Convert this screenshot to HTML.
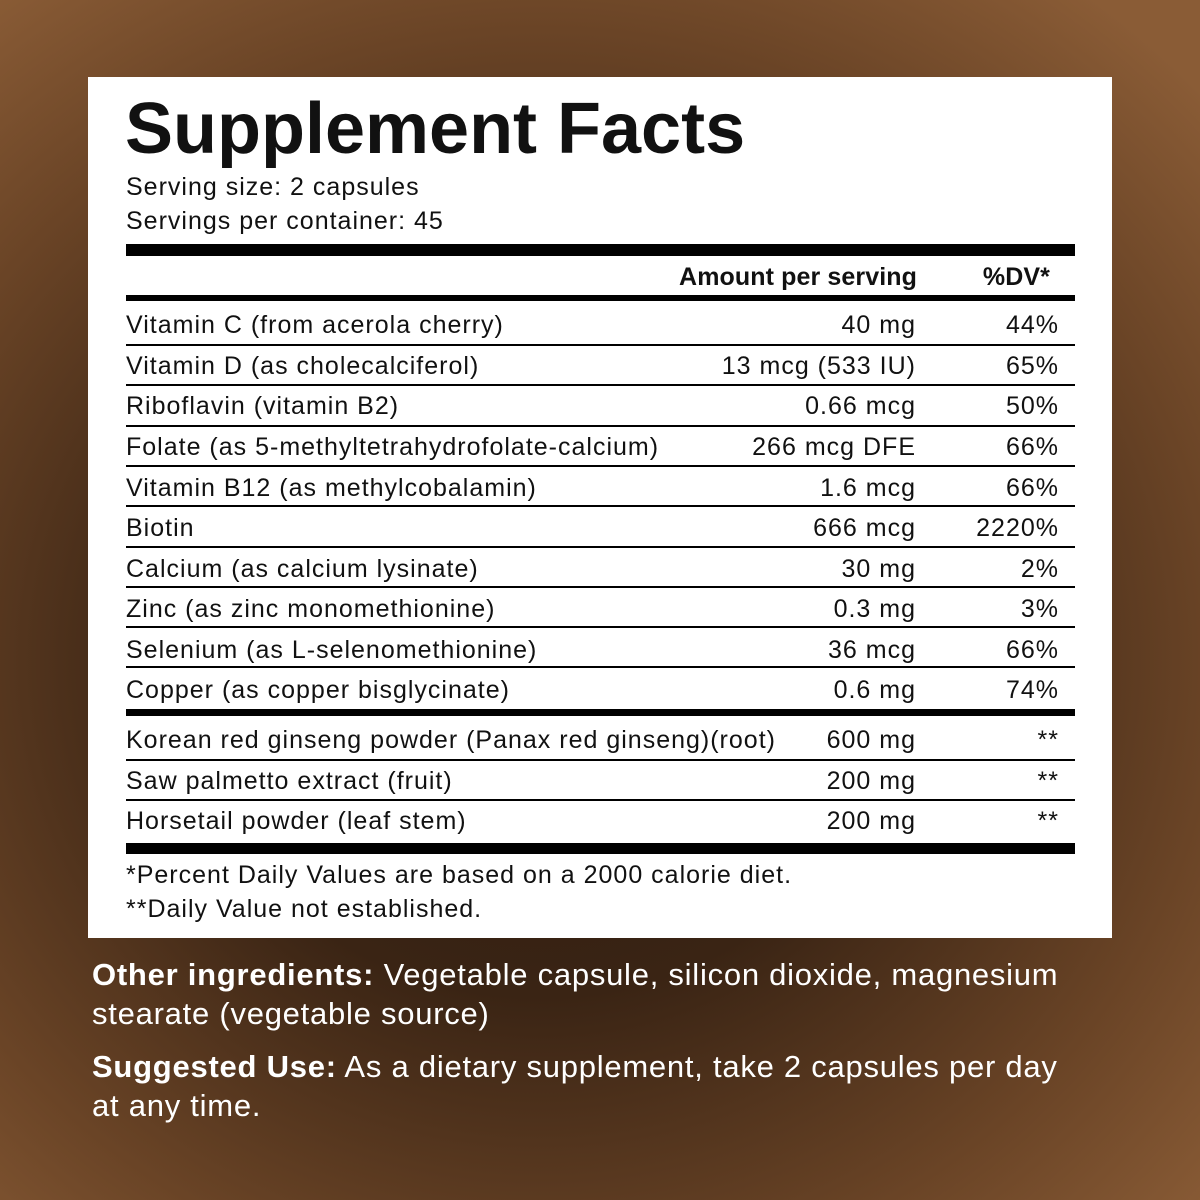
<!DOCTYPE html>
<html><head><style>
*{margin:0;padding:0;box-sizing:border-box}
body{width:1200px;height:1200px;overflow:hidden;font-family:"Liberation Sans",sans-serif;
background:radial-gradient(ellipse 75% 70% at 45% 55%,#2b1a0f 0%,#3a2414 40%,#6a4426 75%,#8a5c36 100%);position:relative}
.box{position:absolute;left:88px;top:77px;width:1024px;height:861px;background:#fff}
.a{position:absolute;white-space:nowrap;color:#111}
.t{position:absolute;font-size:25px;letter-spacing:1px;line-height:28px;white-space:nowrap;color:#111}
.l{left:126px}.m{right:284px;text-align:right}.d{right:141px;text-align:right}
.bar{position:absolute;left:126px;width:949px;background:#000}
.w{position:absolute;left:92px;color:#fff;font-size:31px;letter-spacing:0.75px;line-height:39px;width:1050px;white-space:nowrap}
</style></head><body>
<div class="box"></div>
<div class="a" style="left:125px;top:89px;font-size:72px;font-weight:bold;line-height:80px">Supplement Facts</div>
<div class="t l" style="top:173px">Serving size: 2 capsules</div>
<div class="t l" style="top:207px">Servings per container: 45</div>
<div class="bar" style="top:244px;height:12px"></div>
<div class="t m" style="top:263px;font-weight:bold;letter-spacing:0.1px;right:283px">Amount per serving</div>
<div class="t d" style="top:263px;font-weight:bold;letter-spacing:0.1px;right:150px">%DV*</div>
<div class="bar" style="top:295px;height:6px"></div>

<div class="t l" style="top:311px">Vitamin C (from acerola cherry)</div><div class="t m" style="top:311px">40 mg</div><div class="t d" style="top:311px">44%</div>
<div class="bar" style="top:344px;height:2px"></div>
<div class="t l" style="top:352px">Vitamin D (as cholecalciferol)</div><div class="t m" style="top:352px">13 mcg (533 IU)</div><div class="t d" style="top:352px">65%</div>
<div class="bar" style="top:384px;height:2px"></div>
<div class="t l" style="top:392px">Riboflavin (vitamin B2)</div><div class="t m" style="top:392px">0.66 mcg</div><div class="t d" style="top:392px">50%</div>
<div class="bar" style="top:425px;height:2px"></div>
<div class="t l" style="top:433px">Folate (as 5-methyltetrahydrofolate-calcium)</div><div class="t m" style="top:433px">266 mcg DFE</div><div class="t d" style="top:433px">66%</div>
<div class="bar" style="top:465px;height:2px"></div>
<div class="t l" style="top:474px">Vitamin B12 (as methylcobalamin)</div><div class="t m" style="top:474px">1.6 mcg</div><div class="t d" style="top:474px">66%</div>
<div class="bar" style="top:505px;height:2px"></div>
<div class="t l" style="top:514px">Biotin</div><div class="t m" style="top:514px">666 mcg</div><div class="t d" style="top:514px">2220%</div>
<div class="bar" style="top:546px;height:2px"></div>
<div class="t l" style="top:555px">Calcium (as calcium lysinate)</div><div class="t m" style="top:555px">30 mg</div><div class="t d" style="top:555px">2%</div>
<div class="bar" style="top:586px;height:2px"></div>
<div class="t l" style="top:595px">Zinc (as zinc monomethionine)</div><div class="t m" style="top:595px">0.3 mg</div><div class="t d" style="top:595px">3%</div>
<div class="bar" style="top:626px;height:2px"></div>
<div class="t l" style="top:636px">Selenium (as L-selenomethionine)</div><div class="t m" style="top:636px">36 mcg</div><div class="t d" style="top:636px">66%</div>
<div class="bar" style="top:666px;height:2px"></div>
<div class="t l" style="top:676px">Copper (as copper bisglycinate)</div><div class="t m" style="top:676px">0.6 mg</div><div class="t d" style="top:676px">74%</div>
<div class="bar" style="top:709px;height:7px"></div>
<div class="t l" style="top:726px">Korean red ginseng powder (Panax red ginseng)(root)</div><div class="t m" style="top:726px">600 mg</div><div class="t d" style="top:726px">**</div>
<div class="bar" style="top:759px;height:2px"></div>
<div class="t l" style="top:767px">Saw palmetto extract (fruit)</div><div class="t m" style="top:767px">200 mg</div><div class="t d" style="top:767px">**</div>
<div class="bar" style="top:799px;height:2px"></div>
<div class="t l" style="top:807px">Horsetail powder (leaf stem)</div><div class="t m" style="top:807px">200 mg</div><div class="t d" style="top:807px">**</div>
<div class="bar" style="top:843px;height:11px"></div>
<div class="t l" style="top:861px">*Percent Daily Values are based on a 2000 calorie diet.</div>
<div class="t l" style="top:895px">**Daily Value not established.</div>

<div class="w" style="top:955px"><b>Other ingredients:</b> Vegetable capsule, silicon dioxide, magnesium<br>stearate (vegetable source)</div>
<div class="w" style="top:1047px"><b>Suggested Use:</b> As a dietary supplement, take 2 capsules per day<br>at any time.</div>
</body></html>
